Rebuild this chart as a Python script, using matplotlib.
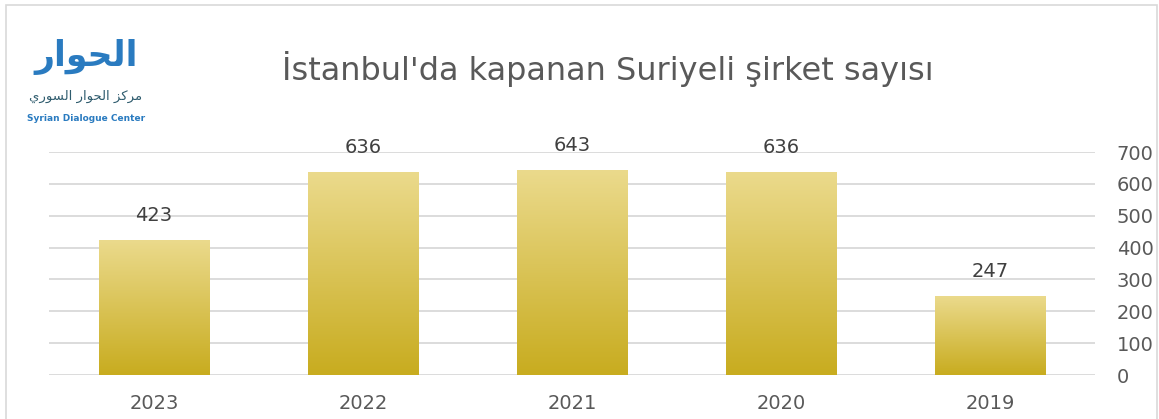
import numpy as np
import matplotlib.pyplot as plt
from matplotlib.patches import Rectangle
from matplotlib.colors import LinearSegmentedColormap

years = ['2023', '2022', '2021', '2020', '2019']
closed = [423, 636, 643, 636, 247]
y_ticks = [0, 100, 200, 300, 400, 500, 600, 700]

title = "İstanbul'da kapanan Suriyeli şirket sayısı"
# Arabic written in presentation forms, visual (left-to-right) order
logo_word = '\ufead\ufe8d\ufeee\ufea4\ufedf\ufe8d'
logo_name = ('\ufef1\ufead\ufeee\ufeb4\ufedf\ufe8d' + ' ' +
             '\ufead\ufe8d\ufeee\ufea4\ufedf\ufe8d' + ' ' +
             '\ufeb0\ufedb\ufeae\ufee3')
logo_en = 'Syrian Dialogue Center'

text_col = '#595959'
grid_col = '#D9D9D9'

fig = plt.figure(figsize=(11.59, 4.19), dpi=100)
ax = fig.add_axes([0.0427, 0.105, 0.9017, 0.532])

x = np.arange(len(years))
bars = ax.bar(x, closed, width=0.53, color='none', zorder=3)

# vertical gradient inside each bar
grad = np.linspace(0, 1, 256).reshape(-1, 1)
cmap = LinearSegmentedColormap.from_list('gold', ['#C8AC1F', '#EBDA8C'])
for b in bars:
    x0, w, h = b.get_x(), b.get_width(), b.get_height()
    im = ax.imshow(grad, extent=[x0, x0 + w, 0, h], origin='lower',
                   cmap=cmap, aspect='auto', zorder=3)
    im.set_clip_path(b)

for xi, v in zip(x, closed):
    ax.text(xi, v + 77, str(v), ha='center', va='center',
            fontsize=14, color='#404040')

ax.set_xlim(-0.5, len(years) - 0.5)
ax.set_ylim(0, 700)
ax.set_xticks(x)
ax.set_xticklabels(years)
ax.set_yticks(y_ticks)
ax.yaxis.tick_right()
ax.tick_params(axis='y', length=0, pad=16, labelsize=14, labelcolor=text_col)
ax.tick_params(axis='x', length=0, pad=14, labelsize=14, labelcolor=text_col)
for lab in ax.get_yticklabels():
    lab.set_horizontalalignment('left')
ax.grid(axis='y', color=grid_col, linewidth=1.3, zorder=0)
for s in ax.spines.values():
    s.set_visible(False)
ax.set_axisbelow(True)

fig.text(0.524, 0.835, title, ha='center', va='center', fontsize=23,
         color=text_col)

# logo
fig.text(0.074, 0.865, logo_word, ha='center', va='center', fontsize=25,
         fontweight='bold', color='#2A7BC0', family='DejaVu Sans')
fig.text(0.074, 0.77, logo_name, ha='center', va='center', fontsize=9.5,
         color='#2F5C6E', family='DejaVu Sans')
fig.text(0.074, 0.718, logo_en, ha='center', va='center', fontsize=6.5,
         fontweight='bold', color='#2A7BC0')

# chart border
fig.patches.append(Rectangle((6 / 1159, -0.05), 1151 / 1159, 1.038,
                             transform=fig.transFigure, fill=False,
                             edgecolor=grid_col, linewidth=1.2))

fig.savefig('out.png', dpi=100)
